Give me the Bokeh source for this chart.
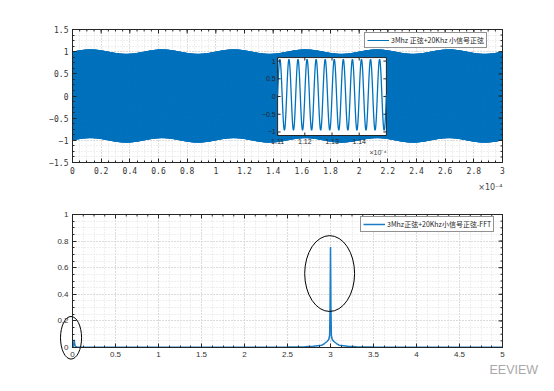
import numpy as np
from bokeh.plotting import figure
from bokeh.models import (Range1d, LinearAxis, FixedTicker, CustomJSTickFormatter,
                          Legend, LegendItem)
from bokeh.layouts import column
from bokeh.embed import file_html
from bokeh.resources import INLINE
from bokeh.core.properties import value

# ---------------- data ----------------
carrier_freq_mhz = 3.0        # 3 MHz carrier
carrier_amp = 1.0
small_freq_khz = 20.0         # 20 kHz small signal
small_amp = 0.05
time_span_e4 = [0.0, 3.0]     # time axis, x 1e-4 s
samples_per_cycle = 16

top_xticks = [0, 0.2, 0.4, 0.6, 0.8, 1, 1.2, 1.4, 1.6, 1.8, 2, 2.2, 2.4, 2.6, 2.8, 3]
top_yticks = [-1.5, -1, -0.5, 0, 0.5, 1, 1.5]
bot_xticks = [0, 0.5, 1, 1.5, 2, 2.5, 3, 3.5, 4, 4.5, 5]
bot_yticks = [0, 0.2, 0.4, 0.6, 0.8, 1]

inset_xlim = [1.11, 1.15]
inset_ylim = [-1.1, 1.1]
inset_xticks = [1.11, 1.12, 1.13, 1.14]
inset_xlabels = ["1.11", "1.12", "1.13", "1.14"]
inset_yticks = [-1.0, -0.5, 0.0, 0.5, 1.0]
inset_ylabels = ["\u22121", "\u22120.5", "0", "0.5", "1"]

fft_freq_mhz = [0.0, 0.0067, 0.0133, 0.02, 0.0267, 0.0333, 0.05, 0.1, 0.5, 1.0, 1.5, 2.0,
                2.5, 2.7, 2.8, 2.9, 2.93, 2.96, 2.98, 2.99, 2.995, 3.0, 3.005, 3.01, 3.02,
                3.04, 3.07, 3.1, 3.2, 3.3, 3.5, 4.0, 4.5, 5.0]
fft_amp = [0.002, 0.008, 0.02, 0.058, 0.02, 0.008, 0.004, 0.002, 0.001, 0.001, 0.001, 0.002,
           0.003, 0.006, 0.009, 0.017, 0.03, 0.045, 0.06, 0.09, 0.3, 0.755, 0.3, 0.09, 0.06,
           0.045, 0.03, 0.017, 0.009, 0.006, 0.003, 0.002, 0.001, 0.001]

ellipse_cx = [-0.017, 2.99]
ellipse_cy = [0.073, 0.556]
ellipse_w = [0.245, 0.58]
ellipse_h = [0.32, 0.57]

top_legend_label = "3Mhz 正弦+20Khz 小信号正弦"
bottom_legend_label = "3Mhz正弦+20Khz小信号正弦-FFT"
exp_label = "\u00d710\u207b\u2074"
watermark = "EEVIEW"

BLUE = "#0072BD"
DARK = "#262626"

fmt_code = "const v = Math.round(tick*1e6)/1e6; return v.toString().replace('-', '\\u2212');"


def signal(u):
    t = np.asarray(u) * 1e-4
    return (carrier_amp * np.sin(2 * np.pi * carrier_freq_mhz * 1e6 * t)
            + small_amp * np.sin(2 * np.pi * small_freq_khz * 1e3 * t))


def minor_of(ticks):
    step = (ticks[1] - ticks[0]) / 4.0
    return list(np.round(np.arange(ticks[0], ticks[-1] + step / 2, step), 6))


def style_axis(ax, ticks, font, size):
    ax.ticker = FixedTicker(ticks=ticks, minor_ticks=minor_of(ticks))
    ax.formatter = CustomJSTickFormatter(code=fmt_code)
    ax.axis_line_color = DARK
    ax.axis_line_width = 1
    ax.major_tick_line_color = DARK
    ax.minor_tick_line_color = DARK
    ax.major_tick_in = 4
    ax.major_tick_out = 0
    ax.minor_tick_in = 2
    ax.minor_tick_out = 0
    ax.major_label_text_font = font
    ax.major_label_text_font_size = size
    ax.major_label_text_color = "#333333"
    ax.major_label_standoff = 4


def edge_ticks(p, xticks, yticks, xedge, yedge):
    # inward ticks on the top and right edges of the box
    for xs, L in ((xticks, 4), (minor_of(xticks), 2)):
        p.ray(x=xs, y=[yedge] * len(xs), length=L, length_units="screen", angle=-np.pi / 2,
              line_color=DARK, line_width=1)
    for ys, L in ((yticks, 4), (minor_of(yticks), 2)):
        p.ray(x=[xedge] * len(ys), y=ys, length=L, length_units="screen", angle=np.pi,
              line_color=DARK, line_width=1)


# layout (pixels): data box of each panel and how far the frame reaches beyond it,
# so that labels and annotations drawn just outside the box are not clipped
BOX_W, BOX_H = 430, 133
BOX_LEFT = 72
EXT_L, EXT_R, EXT_T = 28, 40, 7


def make_panel(xticks, yticks, ext_b, border_top, font, size):
    bx0, bx1 = xticks[0], xticks[-1]
    by0, by1 = yticks[0], yticks[-1]
    xpp = (bx1 - bx0) / BOX_W
    ypp = (by1 - by0) / BOX_H
    p = figure(frame_width=BOX_W + EXT_L + EXT_R, frame_height=BOX_H + ext_b + EXT_T,
               x_range=Range1d(bx0 - EXT_L * xpp, bx1 + EXT_R * xpp),
               y_range=Range1d(by0 - ext_b * ypp, by1 + EXT_T * ypp),
               output_backend="svg", toolbar_location=None,
               min_border_left=BOX_LEFT - EXT_L, min_border_right=4,
               min_border_top=border_top - EXT_T, min_border_bottom=2)
    p.outline_line_color = None
    p.background_fill_color = "white"
    p.border_fill_color = "white"
    style_axis(p.xaxis[0], xticks, font, size)
    style_axis(p.yaxis[0], yticks, font, size)
    p.xaxis[0].fixed_location = by0
    p.xaxis[0].bounds = (bx0, bx1)
    p.yaxis[0].fixed_location = bx0
    p.yaxis[0].bounds = (by0, by1)
    for g, t, b, cb in ((p.xgrid[0], xticks, (bx0, bx1), (by0, by1)),
                        (p.ygrid[0], yticks, (by0, by1), (bx0, bx1))):
        g.ticker = FixedTicker(ticks=t, minor_ticks=minor_of(t))
        g.grid_line_color = "#c8c8c8"
        g.grid_line_dash = "1 2"
        g.minor_grid_line_color = "#dedede"
        g.minor_grid_line_dash = "1 2"
        g.bounds = b
        if "cross_bounds" in g.properties():
            g.cross_bounds = cb
    for side, loc, bnd in (("above", by1, (bx0, bx1)), ("right", bx1, (by0, by1))):
        ax = LinearAxis(ticker=FixedTicker(ticks=[]), fixed_location=loc, bounds=bnd,
                        axis_line_color=DARK, axis_line_width=1)
        p.add_layout(ax, side)
    frame_bottom = border_top + BOX_H + ext_b      # page y of the frame bottom
    return p, frame_bottom


def add_legend(p, label, renderer, left_px, bottom_px, frame_bottom):
    leg = Legend(items=[LegendItem(label=label, renderers=[renderer])],
                 location=(left_px - (BOX_LEFT - EXT_L), frame_bottom - bottom_px))
    leg.border_line_color = DARK
    leg.border_line_width = 1
    leg.background_fill_color = "white"
    leg.background_fill_alpha = 1
    leg.label_text_font = "Noto Sans CJK SC"
    leg.label_text_font_size = "7px"
    leg.label_text_color = DARK
    leg.padding = 2
    leg.spacing = 0
    leg.glyph_width = 22
    leg.glyph_height = 8
    leg.label_height = 8
    leg.label_standoff = 2
    p.add_layout(leg)


# ---------------- top figure ----------------
TOP_EXT_B = 30
p1, fb1 = make_panel(top_xticks, top_yticks, TOP_EXT_B, 29, "DejaVu Sans Mono", "8px")

n_cycles = int(round(carrier_freq_mhz * 1e6 * (time_span_e4[1] - time_span_e4[0]) * 1e-4))
u = np.linspace(time_span_e4[0], time_span_e4[1], n_cycles * samples_per_cycle + 1)
r_sig = p1.line(u, signal(u), line_color=BLUE, line_width=1)
edge_ticks(p1, top_xticks, top_yticks, top_xticks[-1], top_yticks[-1])

# inset: its own ranges mapped onto a sub-rectangle of the data box
inset_box = dict(left=0.477, right=0.730, bottom=0.203, top=0.789)   # fractions of the box
fw = BOX_W + EXT_L + EXT_R
fh = BOX_H + TOP_EXT_B + EXT_T
fx0 = (EXT_L + inset_box["left"] * BOX_W) / fw
fx1 = (EXT_L + inset_box["right"] * BOX_W) / fw
fy0 = (TOP_EXT_B + inset_box["bottom"] * BOX_H) / fh
fy1 = (TOP_EXT_B + inset_box["top"] * BOX_H) / fh
sx = (inset_xlim[1] - inset_xlim[0]) / (fx1 - fx0)
x0 = inset_xlim[0] - fx0 * sx
sy = (inset_ylim[1] - inset_ylim[0]) / (fy1 - fy0)
y0 = inset_ylim[0] - fy0 * sy
p1.extra_x_ranges = {"ix": Range1d(x0, x0 + sx)}
p1.extra_y_ranges = {"iy": Range1d(y0, y0 + sy)}
ir = dict(x_range_name="ix", y_range_name="iy")

p1.quad(left=[inset_xlim[0]], right=[inset_xlim[1]], bottom=[inset_ylim[0]], top=[inset_ylim[1]],
        fill_color="white", line_color=DARK, line_width=1, **ir)
n_in = int(round(carrier_freq_mhz * 1e6 * (inset_xlim[1] - inset_xlim[0]) * 1e-4))
ui = np.linspace(inset_xlim[0], inset_xlim[1], n_in * 40 + 1)
p1.line(ui, signal(ui), line_color=BLUE, line_width=1.3, **ir)

nx = len(inset_xticks)
ny = len(inset_yticks)
for yy, ang in ((inset_ylim[0], np.pi / 2), (inset_ylim[1], -np.pi / 2)):
    p1.ray(x=inset_xticks, y=[yy] * nx, length=3, length_units="screen", angle=ang,
           line_color=DARK, line_width=1, **ir)
for xx, ang in ((inset_xlim[0], 0.0), (inset_xlim[1], np.pi)):
    p1.ray(x=[xx] * ny, y=inset_yticks, length=3, length_units="screen", angle=ang,
           line_color=DARK, line_width=1, **ir)
p1.text(x=inset_xticks, y=[inset_ylim[0]] * nx, text=inset_xlabels, text_align="center",
        text_baseline="top", y_offset=3, text_font=value("Liberation Sans"),
        text_font_size="7px", text_color=DARK, **ir)
p1.text(x=[inset_xlim[0]] * ny, y=inset_yticks, text=inset_ylabels, text_align="right",
        text_baseline="middle", x_offset=-2, text_font=value("Liberation Sans"),
        text_font_size="7px", text_color=DARK, **ir)
p1.text(x=[inset_xlim[1]], y=[inset_ylim[0]], text=[exp_label], text_align="right",
        text_baseline="top", y_offset=13, text_font=value("Liberation Sans"),
        text_font_size="7px", text_color="#444444", **ir)

add_legend(p1, top_legend_label, r_sig, 364, 48, fb1)

p1.text(x=[top_xticks[-1]], y=[top_yticks[0]], text=[exp_label], text_align="right",
        text_baseline="middle", y_offset=25, text_font=value("DejaVu Sans"),
        text_font_size="8px", text_color="#444444")

# ---------------- bottom figure ----------------
top_fig_h = 29 + BOX_H + TOP_EXT_B + 2
p2, fb2 = make_panel(bot_xticks, bot_yticks, 32, 214 - top_fig_h, "Liberation Sans", "8px")
fb2 += top_fig_h

r_fft = p2.line(fft_freq_mhz, fft_amp, line_color="#1a7cc4", line_width=1.5)
edge_ticks(p2, bot_xticks, bot_yticks, bot_xticks[-1], bot_yticks[-1])

p2.ellipse(x=ellipse_cx, y=ellipse_cy, width=ellipse_w, height=ellipse_h,
           fill_color=None, line_color="black", line_width=1)

p2.text(x=[bot_xticks[-1]], y=[bot_yticks[0]], text=[watermark], text_align="left",
        text_baseline="middle", x_offset=-13, y_offset=22, text_font=value("Liberation Sans"),
        text_font_size="12.5px", text_color="#a8a8a8")

add_legend(p2, bottom_legend_label, r_fft, 360, 232, fb2)

layout = column(p1, p2)
open("out.html", "w", encoding="utf-8").write(file_html(layout, INLINE))
